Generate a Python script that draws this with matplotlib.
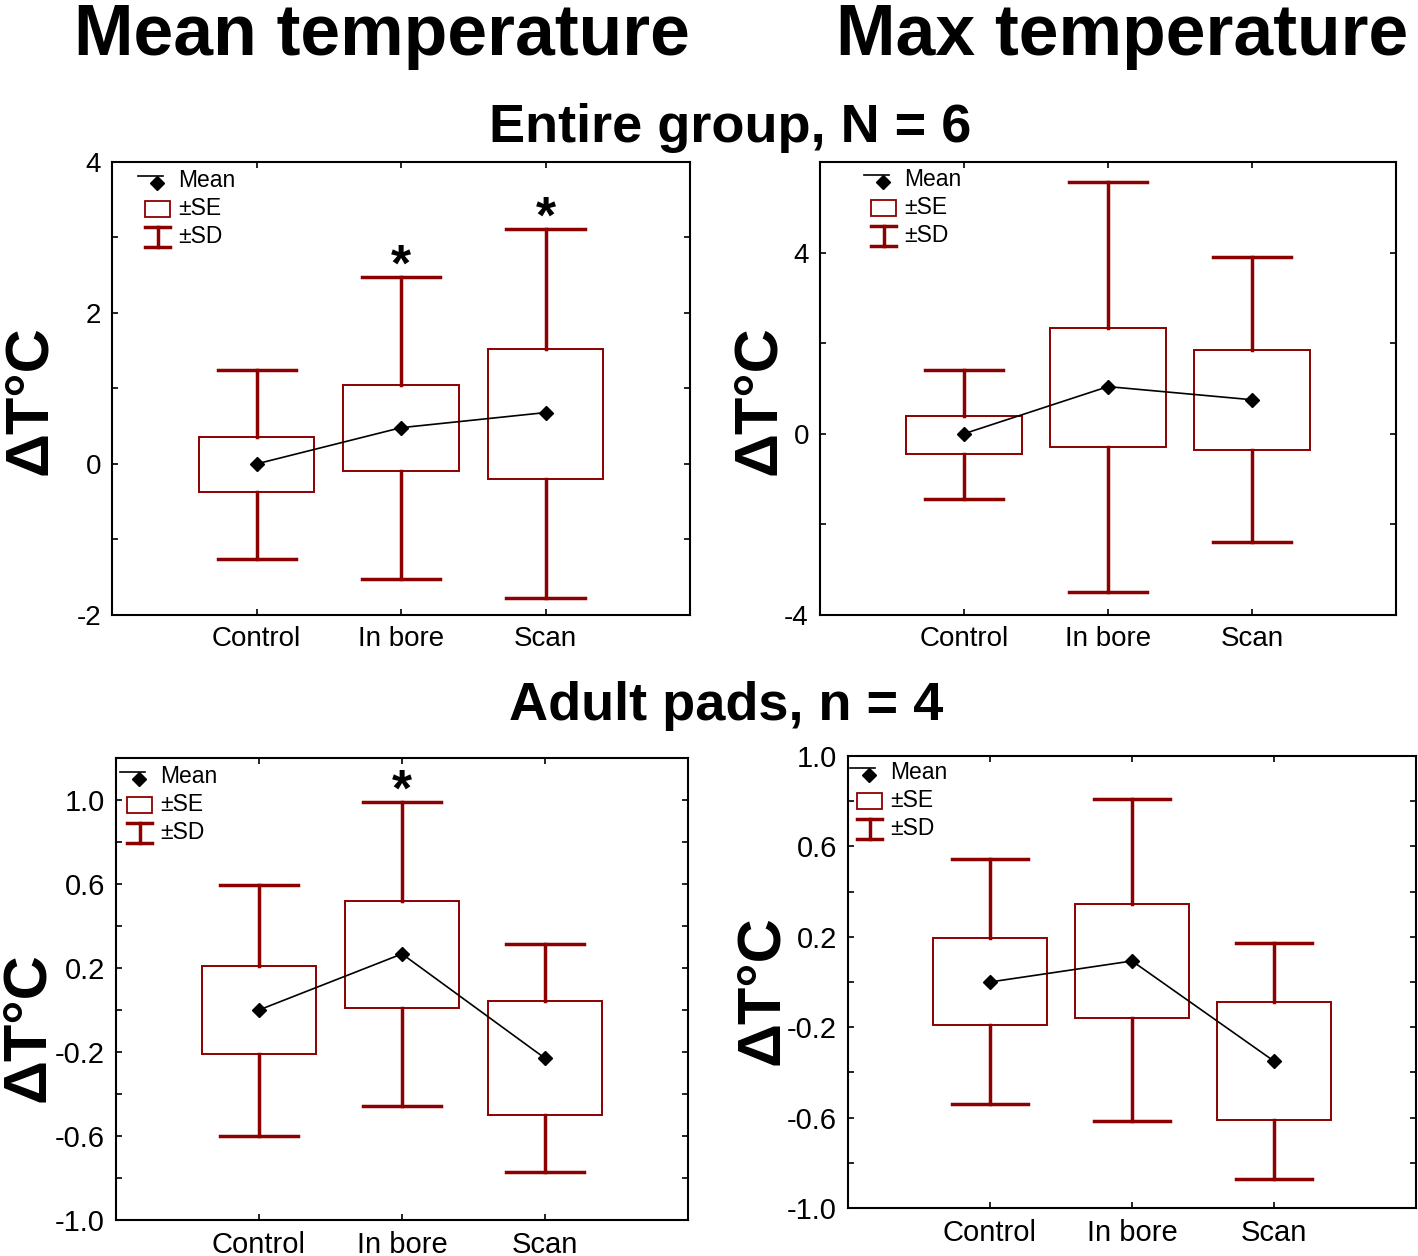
import matplotlib
matplotlib.use("Agg")
import matplotlib.pyplot as plt
from matplotlib.ticker import FixedLocator
from matplotlib.patches import Rectangle

plt.rcParams['font.family'] = ['Liberation Sans', 'DejaVu Sans']

RED = '#8c0000'
groups = ['Control', 'In bore', 'Scan']

# entire group, mean temperature
tl_mean = [0.0, 0.48, 0.68]
tl_se_hi = [0.35, 1.05, 1.52]
tl_se_lo = [-0.37, -0.10, -0.20]
tl_sd_hi = [1.25, 2.48, 3.11]
tl_sd_lo = [-1.26, -1.53, -1.77]
tl_star = [False, True, True]

# entire group, max temperature
tr_mean = [0.0, 1.04, 0.75]
tr_se_hi = [0.40, 2.33, 1.85]
tr_se_lo = [-0.44, -0.29, -0.35]
tr_sd_hi = [1.41, 5.55, 3.90]
tr_sd_lo = [-1.45, -3.50, -2.38]
tr_star = [False, False, False]

# adult pads, mean temperature
bl_mean = [0.0, 0.267, -0.23]
bl_se_hi = [0.21, 0.52, 0.043]
bl_se_lo = [-0.21, 0.01, -0.50]
bl_sd_hi = [0.595, 0.99, 0.314]
bl_sd_lo = [-0.60, -0.457, -0.77]
bl_star = [False, True, False]

# adult pads, max temperature
br_mean = [0.0, 0.093, -0.35]
br_se_hi = [0.195, 0.345, -0.088]
br_se_lo = [-0.19, -0.16, -0.61]
br_sd_hi = [0.544, 0.81, 0.173]
br_sd_lo = [-0.54, -0.615, -0.87]
br_star = [False, False, False]


def draw_legend(ax, dx, dy):
    # dx, dy: pixel offset of the text column / first row from the axes top-left
    tr = ax.transAxes
    w, h = ax.bbox.width, ax.bbox.height
    fx = lambda p: (dx + p) / w
    fy = lambda p: 1 - (dy + p) / h
    ax.plot([fx(-40), fx(-15)], [fy(-5), fy(-5)], color='k', lw=1.2, transform=tr, clip_on=False)
    ax.plot([fx(-21)], [fy(2)], marker='D', color='k', ms=7, transform=tr, clip_on=False)
    ax.text(fx(0), fy(0), 'Mean', fontsize=16.5, va='center', transform=tr)
    ax.add_patch(Rectangle((fx(-33), fy(36)), 25 / w, 16 / h, fill=False, ec=RED, lw=1.3, transform=tr))
    ax.text(fx(0), fy(28), '±SE', fontsize=16.5, va='center', transform=tr)
    ax.plot([fx(-20), fx(-20)], [fy(46), fy(66)], color=RED, lw=2.5, transform=tr)
    ax.plot([fx(-33), fx(-8)], [fy(46), fy(46)], color=RED, lw=2.5, transform=tr)
    ax.plot([fx(-33), fx(-8)], [fy(66), fy(66)], color=RED, lw=2.5, transform=tr)
    ax.text(fx(0), fy(56), '±SD', fontsize=16.5, va='center', transform=tr)


def draw_panel(ax, mean, se_hi, se_lo, sd_hi, sd_lo, star, ylim, major, minor, fmt, fs,
               label_xy, legend_off):
    xs = [1, 2, 3]
    span = ylim[1] - ylim[0]
    for x, m, sh, sl, dh, dl, st in zip(xs, mean, se_hi, se_lo, sd_hi, sd_lo, star):
        ax.add_patch(Rectangle((x - 0.4, sl), 0.8, sh - sl, fill=False, ec=RED, lw=1.4, zorder=2))
        ax.plot([x, x], [sh, dh], color=RED, lw=2.5, zorder=2)
        ax.plot([x, x], [sl, dl], color=RED, lw=2.5, zorder=2)
        ax.plot([x - 0.27, x + 0.27], [dh, dh], color=RED, lw=2.5, zorder=2)
        ax.plot([x - 0.27, x + 0.27], [dl, dl], color=RED, lw=2.5, zorder=2)
        if st:
            ax.text(x, dh - 0.032 * span, '*', fontsize=37, fontweight='bold',
                    ha='center', va='bottom')
    ax.plot(xs, mean, color='k', lw=1.2, marker='D', ms=7, zorder=3)
    ax.set_xlim(0, 4)
    ax.set_ylim(*ylim)
    ax.set_xticks(xs)
    ax.set_xticklabels(groups, fontsize=fs)
    ax.yaxis.set_major_locator(FixedLocator(major))
    ax.yaxis.set_minor_locator(FixedLocator(minor))
    ax.set_yticklabels([fmt.format(v) for v in major], fontsize=fs)
    ax.tick_params(which='both', direction='in', top=True, right=True, length=4, width=1.2, pad=8)
    for s in ax.spines.values():
        s.set_linewidth(1.5)
    ax.set_ylabel('ΔT°C', fontsize=44, fontweight='bold')
    ax.yaxis.set_label_coords(*label_xy)
    draw_legend(ax, *legend_off)


fig = plt.figure(figsize=(14.18, 12.56), dpi=100)

ax1 = fig.add_axes([0.079, 0.5104, 0.4076, 0.3607])
ax2 = fig.add_axes([0.5783, 0.5104, 0.4062, 0.3607])
ax3 = fig.add_axes([0.0818, 0.0287, 0.4034, 0.3678])
ax4 = fig.add_axes([0.598, 0.0382, 0.4006, 0.3599])

draw_panel(ax1, tl_mean, tl_se_hi, tl_se_lo, tl_sd_hi, tl_sd_lo, tl_star,
           (-2, 4), [-2, 0, 2, 4], [-1, 1, 3], '{:g}', 20,
           (-0.092, 0.475), (66, 19))
draw_panel(ax2, tr_mean, tr_se_hi, tr_se_lo, tr_sd_hi, tr_sd_lo, tr_star,
           (-4, 6), [-4, 0, 4], [-2, 2], '{:g}', 20,
           (-0.056, 0.475), (84, 18))
draw_panel(ax3, bl_mean, bl_se_hi, bl_se_lo, bl_sd_hi, bl_sd_lo, bl_star,
           (-1, 1.2), [-1.0, -0.6, -0.2, 0.2, 0.6, 1.0], [-0.8, -0.4, 0.0, 0.4, 0.8], '{:.1f}', 21,
           (-0.104, 0.418), (44, 19))
draw_panel(ax4, br_mean, br_se_hi, br_se_lo, br_sd_hi, br_sd_lo, br_star,
           (-1, 1), [-1.0, -0.6, -0.2, 0.2, 0.6, 1.0], [-0.8, -0.4, 0.0, 0.4, 0.8], '{:.1f}', 21,
           (-0.101, 0.482), (42, 17))

fig.text(0.269, 0.956, 'Mean temperature', fontsize=51.5, fontweight='bold', ha='center', va='baseline')
fig.text(0.791, 0.956, 'Max temperature', fontsize=51.5, fontweight='bold', ha='center', va='baseline')
fig.text(0.515, 0.898, 'Entire group, N = 6', fontsize=39, fontweight='bold', ha='center', va='center')
fig.text(0.512, 0.438, 'Adult pads, n = 4', fontsize=39, fontweight='bold', ha='center', va='center')

fig.savefig('out.png', dpi=100)
